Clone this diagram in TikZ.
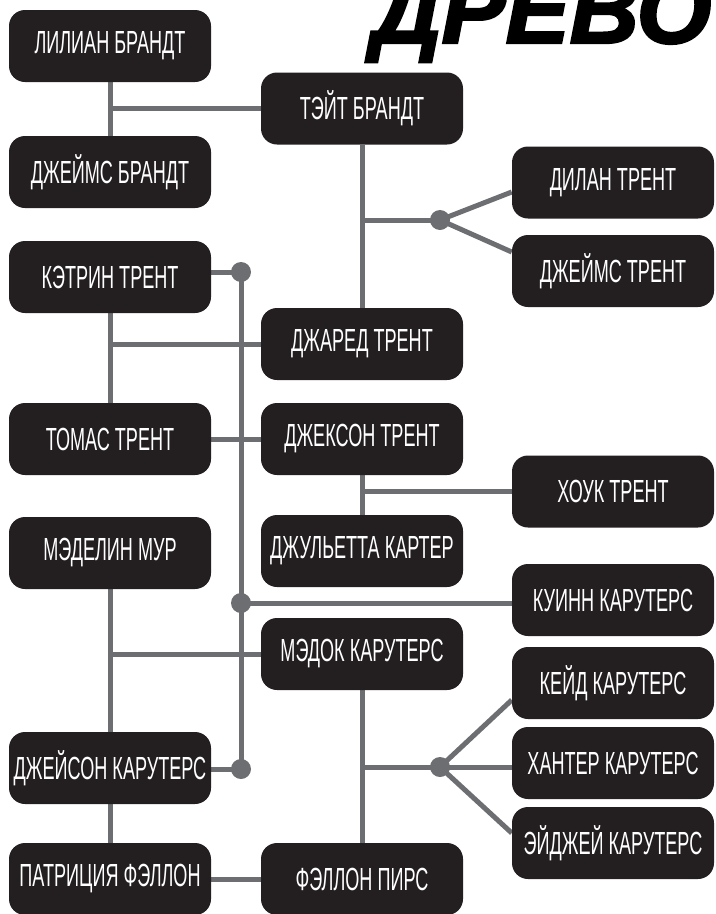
\documentclass[tikz,border=0pt]{standalone}
\usepackage{fontspec}
\setmainfont{Liberation Sans}
\newfontfamily\namefont[FakeStretch=0.565]{Liberation Sans}
\newfontfamily\titlefont[FakeBold=2.5]{Liberation Sans}
\usepackage{xcolor}
\usepackage{tikz}
\usetikzlibrary{calc}

\definecolor{boxblack}{HTML}{231F20}
\definecolor{linkgray}{HTML}{6D6E71}

\pgfdeclarelayer{background}
\pgfsetlayers{background,main}

\tikzset{
  person/.style={fill=boxblack, text=white, rounded corners=12pt,
    minimum width=151.5pt, minimum height=54pt, inner sep=0pt,
    font=\namefont\fontsize{24}{24}\selectfont},
  link/.style={draw=linkgray, line width=3.75pt},
  joint/.style={fill=linkgray}
}

\begin{document}
\begin{tikzpicture}[x=0.75pt, y=-0.75pt]
\useasboundingbox (0,0) rectangle (715,914);
\clip (0,0) rectangle (715,914);
\node [anchor=base west, inner sep=0pt, font=\titlefont\bfseries\itshape\fontsize{72}{72}\selectfont] (title) at (372,43) {ДРЕВО};
% left column
\node [person] (lilian) at (110,46) {ЛИЛИАН БРАНДТ};
\node [person] (jamesb) at (110,172) {ДЖЕЙМС БРАНДТ};
\node [person] (katrin) at (110,277) {КЭТРИН ТРЕНТ};
\node [person] (thomas) at (110,439) {ТОМАС ТРЕНТ};
\node [person] (madelyn) at (110,553) {МЭДЕЛИН МУР};
\node [person] (jason) at (110,768) {ДЖЕЙСОН КАРУТЕРС};
\node [person] (patricia) at (110,879) {ПАТРИЦИЯ ФЭЛЛОН};
% middle column
\node [person] (tate) at (362,108.5) {ТЭЙТ БРАНДТ};
\node [person] (jared) at (362,344) {ДЖАРЕД ТРЕНТ};
\node [person] (jackson) at (362,439) {ДЖЕКСОН ТРЕНТ};
\node [person] (juliet) at (362,551) {ДЖУЛЬЕТТА КАРТЕР};
\node [person] (madoc) at (362,654) {МЭДОК КАРУТЕРС};
\node [person] (fallon) at (362,879) {ФЭЛЛОН ПИРС};
% right column
\node [person] (dylan) at (613,182.5) {ДИЛАН ТРЕНТ};
\node [person] (jamest) at (613,271) {ДЖЕЙМС ТРЕНТ};
\node [person] (hawk) at (613,491.5) {ХОУК ТРЕНТ};
\node [person] (quinn) at (613,600) {КУИНН КАРУТЕРС};
\node [person] (kade) at (613,683) {КЕЙД КАРУТЕРС};
\node [person] (hunter) at (613,763) {ХАНТЕР КАРУТЕРС};
\node [person] (ajay) at (613,843) {ЭЙДЖЕЙ КАРУТЕРС};
% joints
\coordinate (d1) at (241,272);
\coordinate (d2) at (241,769);
\coordinate (d3) at (241,603);
\coordinate (d4) at (440,220);
\coordinate (d5) at (440,767);
\begin{pgfonlayer}{background}
\draw [link] (lilian.south) -- (jamesb.north);
\draw [link] (tate.west -| lilian.south) -- (tate.west);
\draw [link] (tate.south) -- (jared.north);
\draw [link] (d4 -| tate.south) -- (d4);
\draw [link] (d4) -- ($(dylan.west)+(0,9.5)$);
\draw [link] (d4) -- ($(jamest.west)+(0,-19)$);
\draw [link] (katrin.south) -- (thomas.north);
\draw [link] (jared.west -| katrin.south) -- (jared.west);
\draw [link] (thomas.east) -- (jackson.west);
\draw [link] (jackson.south) -- (juliet.north);
\draw [link] (hawk.west -| jackson.south) -- (hawk.west);
\draw [link] (d1 -| katrin.east) -- (d1) -- (d2) -- (d2 -| jason.east);
\draw [link] (d3) -- (d3 -| quinn.west);
\draw [link] (madelyn.south) -- (jason.north);
\draw [link] (madoc.west -| madelyn.south) -- (madoc.west);
\draw [link] (jason.south) -- (patricia.north);
\draw [link] (patricia.east) -- (fallon.west);
\draw [link] (madoc.south) -- (fallon.north);
\draw [link] (d5 -| madoc.south) -- (d5);
\draw [link] (d5) -- ($(kade.west)+(0,17)$);
\draw [link] (d5) -- ($(hunter.west)+(0,4)$);
\draw [link] (d5) -- ($(ajay.west)+(0,-10)$);
\foreach \j in {d1,d2,d3,d4,d5}
  \fill [joint] (\j) circle [radius=7.5pt];
\end{pgfonlayer}
\end{tikzpicture}
\end{document}
